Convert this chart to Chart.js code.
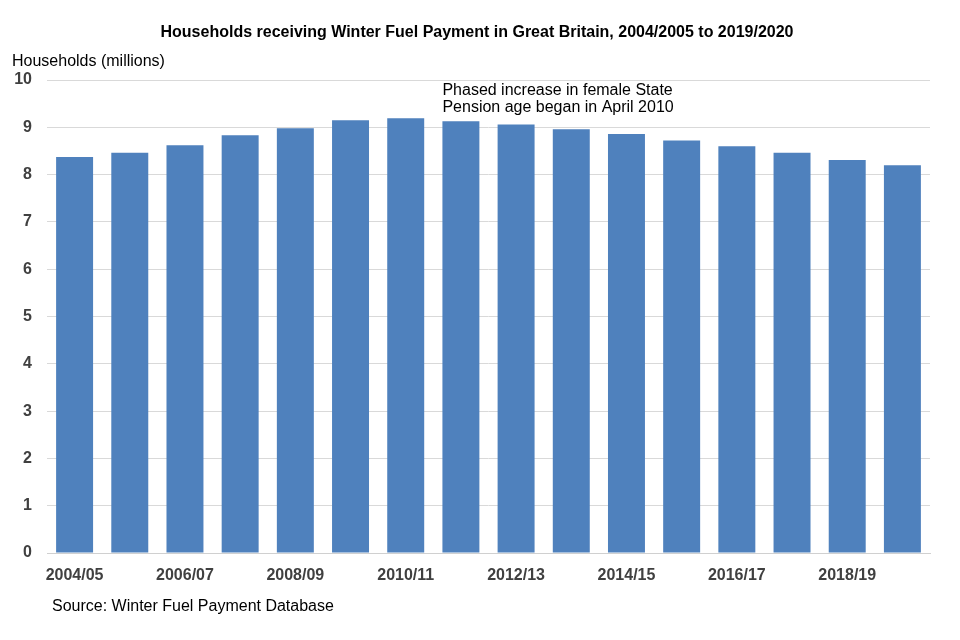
<!DOCTYPE html>
<html>
<head>
<meta charset="utf-8">
<script src="https://cdn.jsdelivr.net/npm/chart.js@4/dist/chart.umd.min.js"></script>
<style>
  body { margin: 0; background: #fff; }
  canvas { display: block; }
</style>
</head>
<body>
<canvas id="grafico" width="960" height="640"></canvas>
<script>
let years = ['2004/05','2005/06','2006/07','2007/08','2008/09','2009/10','2010/11','2011/12',
             '2012/13','2013/14','2014/15','2015/16','2016/17','2017/18','2018/19','2019/20'];
let households = [8.37, 8.46, 8.62, 8.83, 8.98, 9.15, 9.19, 9.13,
                  9.06, 8.96, 8.86, 8.72, 8.60, 8.46, 8.31, 8.20];
let yTicks = [0,1,2,3,4,5,6,7,8,9,10];

let titulo = 'Households receiving Winter Fuel Payment in Great Britain, 2004/2005 to 2019/2020';
let ejeY = 'Households (millions)';
let nota = ['Phased increase in female State', 'Pension age began in April 2010'];
let fuente = 'Source: Winter Fuel Payment Database';

// textos fuera del area del grafico
let textos = {
    id: 'textos',
    afterDraw(chart) {
        let ctx = chart.ctx;
        let x = chart.scales.x;
        ctx.save();
        ctx.fillStyle = '#000';
        ctx.textBaseline = 'middle';
        ctx.font = 'bold 16px "Liberation Sans", Arial, sans-serif';
        ctx.textAlign = 'center';
        ctx.fillText(titulo, 477, 33);
        ctx.font = '16px "Liberation Sans", Arial, sans-serif';
        ctx.textAlign = 'left';
        ctx.fillText(ejeY, 12, 62);
        ctx.fillText(fuente, 52, 607);
        // nota alineada con la barra de 2011/12
        let left = x.getPixelForValue(7) - 18.5;
        ctx.fillText(nota[0], left, 91);
        ctx.fillText(nota[1], left, 108);
        ctx.restore();
    }
};

let grafica = document.getElementById('grafico').getContext('2d');
let parametros = {
    type: 'bar',
    data: {
        labels: years,
        datasets: [
            {
                label: 'Households',
                backgroundColor: 'rgb(79,129,189)',
                borderWidth: 0,
                barPercentage: 0.67,
                categoryPercentage: 1,
                data: households
            }
        ]
    },
    options: {
        responsive: false,
        animation: false,
        devicePixelRatio: 1,
        layout: { padding: { left: 12, right: 30, top: 80, bottom: 47 } },
        plugins: { legend: { display: false }, tooltip: { enabled: false } },
        scales: {
            x: {
                grid: { display: false, drawTicks: false },
                border: { display: true, color: '#d0d0d0' },
                afterFit(scale) { scale.height = 40; },
                ticks: {
                    autoSkip: false,
                    maxRotation: 0,
                    padding: 13,
                    color: '#404040',
                    font: { family: '"Liberation Sans", Arial, sans-serif', size: 16, weight: 'bold' },
                    callback(v, i) { return i % 2 === 0 ? years[i] : ''; }
                }
            },
            y: {
                min: 0,
                max: 10,
                afterFit(scale) { scale.width = 35; },
                afterBuildTicks(scale) { scale.ticks = yTicks.map(v => ({ value: v })); },
                grid: { color: '#d9d9d9', drawTicks: false },
                border: { display: false },
                ticks: {
                    padding: 15,
                    color: '#404040',
                    font: { family: '"Liberation Sans", Arial, sans-serif', size: 16, weight: 'bold' }
                }
            }
        }
    },
    plugins: [textos]
};
var chart = new Chart(grafica, parametros);
</script>
</body>
</html>
